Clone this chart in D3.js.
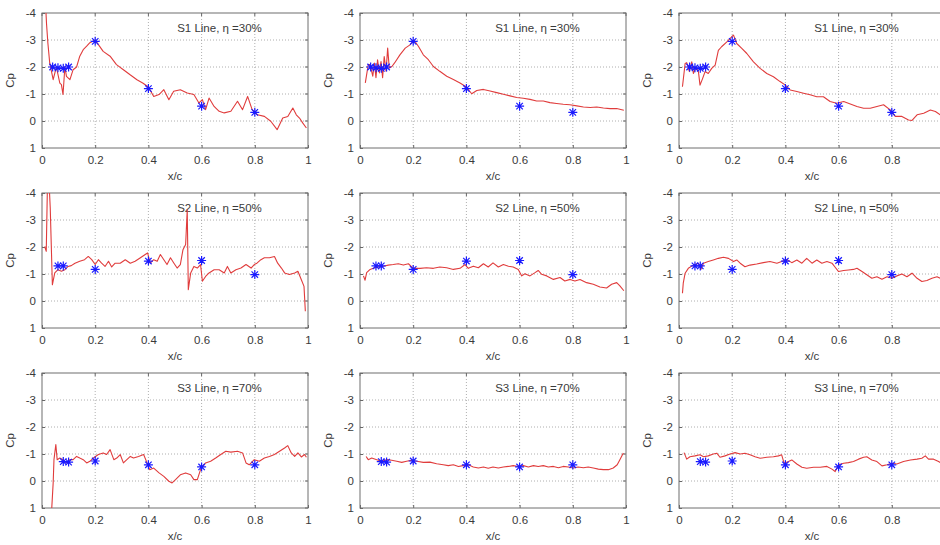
<!DOCTYPE html>
<html>
<head>
<meta charset="utf-8">
<script src="https://cdn.jsdelivr.net/npm/d3@7"></script>
<style>
  html, body { margin: 0; padding: 0; background: #fff; overflow: hidden; }
  svg { display: block; font-family: "Liberation Sans", Arial, sans-serif; }
</style>
</head>
<body>
<div id="chart"></div>
<script>
// ---- data ----
const xTicks = [0, 0.2, 0.4, 0.6, 0.8, 1];
const yTicks = [-4, -3, -2, -1, 0, 1];
const titles = ["S1 Line, η =30%", "S2 Line, η =50%", "S3 Line, η =70%"];

// experimental taps (stars), same per row
const s1Taps = [[0.04, -2.0], [0.06, -1.97], [0.08, -1.95], [0.1, -2.0], [0.2, -2.95], [0.4, -1.2], [0.6, -0.55], [0.8, -0.32]];
const s2Taps = [[0.06, -1.3], [0.08, -1.3], [0.2, -1.17], [0.4, -1.48], [0.6, -1.5], [0.8, -0.98]];
const s3Taps = [[0.08, -0.72], [0.1, -0.7], [0.2, -0.74], [0.4, -0.6], [0.6, -0.52], [0.8, -0.6]];

// computed Cp curves, one per panel
const s1Left = [[0.012,-4.6],[0.017,-3.6],[0.022,-2.9],[0.029,-2.15],[0.042,-1.53],[0.054,-2.0],[0.067,-1.4],[0.073,-1.35],[0.079,-0.98],[0.086,-2.0],[0.092,-1.65],[0.105,-1.53],[0.117,-1.9],[0.13,-2.0],[0.142,-2.4],[0.155,-2.64],[0.168,-2.77],[0.18,-2.9],[0.2,-3.0],[0.212,-2.83],[0.23,-2.58],[0.256,-2.4],[0.28,-2.09],[0.306,-1.9],[0.33,-1.72],[0.357,-1.53],[0.38,-1.4],[0.4,-1.26],[0.42,-0.91],[0.44,-0.98],[0.458,-1.16],[0.477,-0.79],[0.495,-1.1],[0.52,-1.16],[0.546,-1.04],[0.571,-0.98],[0.59,-0.67],[0.603,-0.79],[0.615,-0.42],[0.628,-0.85],[0.647,-0.54],[0.666,-0.36],[0.685,-0.3],[0.71,-0.36],[0.735,-0.73],[0.754,-0.42],[0.773,-0.91],[0.79,-0.42],[0.81,-0.23],[0.836,-0.17],[0.86,0.01],[0.884,0.32],[0.905,-0.11],[0.924,-0.17],[0.943,-0.48],[0.956,-0.23],[0.968,-0.11],[0.98,0.07],[0.994,0.26]];
const s1Mid = [[0.02,-1.41],[0.031,-2.09],[0.038,-2.09],[0.048,-1.66],[0.054,-2.15],[0.06,-1.6],[0.066,-2.27],[0.073,-1.78],[0.079,-2.2],[0.085,-1.6],[0.091,-2.39],[0.098,-1.84],[0.104,-2.7],[0.11,-1.96],[0.12,-2.02],[0.13,-2.15],[0.15,-2.45],[0.17,-2.7],[0.188,-2.82],[0.203,-3.0],[0.22,-2.76],[0.238,-2.45],[0.257,-2.27],[0.276,-2.02],[0.3,-1.84],[0.326,-1.66],[0.351,-1.54],[0.376,-1.41],[0.4,-1.26],[0.42,-1.01],[0.439,-1.13],[0.464,-1.17],[0.489,-1.11],[0.514,-1.05],[0.539,-0.99],[0.564,-0.93],[0.589,-0.87],[0.614,-0.84],[0.639,-0.8],[0.664,-0.74],[0.689,-0.74],[0.714,-0.68],[0.739,-0.65],[0.764,-0.62],[0.789,-0.6],[0.815,-0.56],[0.84,-0.52],[0.865,-0.5],[0.89,-0.52],[0.915,-0.48],[0.94,-0.46],[0.965,-0.46],[0.992,-0.4]];
const s1Right = [[0.013,-1.27],[0.023,-2.13],[0.029,-2.16],[0.039,-1.83],[0.048,-2.19],[0.054,-1.76],[0.064,-2.0],[0.073,-1.83],[0.079,-1.33],[0.089,-1.58],[0.098,-1.83],[0.11,-1.76],[0.123,-1.95],[0.136,-2.07],[0.148,-2.62],[0.16,-2.75],[0.18,-2.93],[0.198,-3.12],[0.205,-3.18],[0.217,-2.87],[0.236,-2.69],[0.255,-2.5],[0.28,-2.19],[0.305,-1.95],[0.33,-1.76],[0.355,-1.64],[0.38,-1.46],[0.4,-1.33],[0.418,-1.15],[0.443,-1.09],[0.468,-1.03],[0.493,-0.97],[0.518,-0.9],[0.543,-0.9],[0.568,-0.72],[0.593,-0.66],[0.619,-0.72],[0.644,-0.63],[0.669,-0.54],[0.694,-0.47],[0.719,-0.47],[0.744,-0.54],[0.769,-0.6],[0.794,-0.41],[0.813,-0.17],[0.838,-0.17],[0.863,-0.04],[0.876,-0.02],[0.895,-0.23],[0.92,-0.29],[0.945,-0.41],[0.964,-0.35],[0.982,-0.23],[1.0,-0.2]];

const s2Left = [[0.01,-2.02],[0.016,-1.84],[0.021,-4.6],[0.026,-4.5],[0.031,-3.44],[0.039,-0.6],[0.048,-1.04],[0.06,-1.16],[0.073,-1.1],[0.086,-1.16],[0.098,-1.28],[0.11,-1.31],[0.124,-1.4],[0.142,-1.47],[0.16,-1.53],[0.174,-1.65],[0.187,-1.53],[0.2,-1.35],[0.212,-1.53],[0.224,-1.4],[0.237,-1.28],[0.25,-1.47],[0.262,-1.26],[0.275,-1.4],[0.294,-1.4],[0.313,-1.53],[0.332,-1.4],[0.35,-1.47],[0.37,-1.6],[0.388,-1.72],[0.397,-1.78],[0.407,-1.4],[0.42,-1.53],[0.433,-1.47],[0.445,-1.72],[0.458,-1.53],[0.47,-1.35],[0.483,-1.6],[0.496,-1.4],[0.508,-1.22],[0.52,-1.35],[0.53,-1.9],[0.54,-2.09],[0.546,-3.38],[0.55,-0.42],[0.559,-1.04],[0.571,-1.28],[0.584,-1.22],[0.596,-1.35],[0.603,-0.73],[0.615,-0.91],[0.628,-1.04],[0.647,-1.16],[0.666,-1.16],[0.685,-1.04],[0.697,-1.28],[0.71,-1.04],[0.729,-1.16],[0.748,-1.22],[0.767,-1.35],[0.786,-1.22],[0.798,-1.35],[0.808,-1.4],[0.823,-1.53],[0.836,-1.6],[0.855,-1.6],[0.874,-1.65],[0.886,-1.4],[0.9,-1.22],[0.912,-1.04],[0.93,-0.98],[0.95,-1.04],[0.962,-1.1],[0.975,-0.79],[0.985,-0.54],[0.99,0.38]];
const s2Mid = [[0.013,-0.93],[0.019,-0.77],[0.025,-1.05],[0.038,-1.17],[0.05,-1.21],[0.069,-1.26],[0.088,-1.29],[0.106,-1.33],[0.125,-1.35],[0.144,-1.38],[0.163,-1.33],[0.182,-1.38],[0.2,-1.21],[0.226,-1.21],[0.25,-1.23],[0.276,-1.21],[0.3,-1.26],[0.326,-1.23],[0.351,-1.17],[0.376,-1.21],[0.395,-1.35],[0.407,-1.21],[0.426,-1.29],[0.445,-1.23],[0.464,-1.38],[0.482,-1.26],[0.5,-1.41],[0.52,-1.26],[0.539,-1.35],[0.558,-1.29],[0.576,-1.26],[0.595,-1.17],[0.608,-0.93],[0.62,-1.01],[0.639,-0.93],[0.658,-1.05],[0.67,-1.13],[0.683,-0.99],[0.702,-0.93],[0.727,-0.8],[0.752,-0.87],[0.77,-0.74],[0.79,-0.8],[0.808,-0.74],[0.827,-0.8],[0.852,-0.68],[0.877,-0.62],[0.902,-0.52],[0.927,-0.48],[0.946,-0.62],[0.965,-0.68],[0.977,-0.56],[0.992,-0.38]];
const s2Right = [[0.013,-0.29],[0.016,-0.66],[0.023,-1.03],[0.035,-1.21],[0.054,-1.33],[0.073,-1.4],[0.082,-1.17],[0.092,-1.4],[0.11,-1.46],[0.129,-1.52],[0.148,-1.58],[0.167,-1.62],[0.186,-1.58],[0.205,-1.46],[0.217,-1.52],[0.23,-1.4],[0.248,-1.27],[0.267,-1.33],[0.292,-1.37],[0.317,-1.42],[0.342,-1.46],[0.368,-1.4],[0.386,-1.46],[0.405,-1.54],[0.424,-1.42],[0.443,-1.52],[0.462,-1.4],[0.48,-1.58],[0.5,-1.4],[0.518,-1.52],[0.537,-1.4],[0.556,-1.46],[0.575,-1.4],[0.587,-1.25],[0.6,-1.09],[0.619,-1.13],[0.637,-1.15],[0.656,-1.17],[0.669,-1.21],[0.688,-1.09],[0.706,-0.97],[0.725,-0.84],[0.744,-0.9],[0.763,-0.81],[0.782,-0.9],[0.8,-0.84],[0.819,-0.93],[0.838,-1.0],[0.857,-0.9],[0.876,-1.03],[0.895,-0.84],[0.913,-0.72],[0.932,-0.76],[0.951,-0.84],[0.97,-0.9],[0.982,-0.84],[1.0,-0.86]];

const s3Left = [[0.035,1.3],[0.042,0.07],[0.045,-0.79],[0.052,-1.35],[0.057,-0.79],[0.067,-0.85],[0.079,-0.79],[0.092,-0.67],[0.105,-0.79],[0.117,-0.79],[0.13,-0.91],[0.142,-0.85],[0.155,-0.79],[0.168,-0.67],[0.18,-0.73],[0.193,-0.85],[0.212,-0.98],[0.23,-1.04],[0.243,-0.98],[0.256,-1.16],[0.27,-0.79],[0.281,-0.85],[0.294,-0.98],[0.306,-0.67],[0.319,-0.79],[0.332,-0.91],[0.344,-0.85],[0.363,-0.91],[0.382,-0.98],[0.395,-0.67],[0.405,-0.42],[0.42,-0.48],[0.44,-0.3],[0.458,-0.17],[0.477,0.01],[0.489,0.07],[0.502,-0.05],[0.52,-0.23],[0.54,-0.3],[0.559,-0.23],[0.571,-0.05],[0.584,-0.05],[0.596,-0.42],[0.615,-0.67],[0.634,-0.73],[0.653,-0.85],[0.672,-0.98],[0.691,-1.1],[0.71,-1.07],[0.735,-1.1],[0.754,-1.04],[0.767,-0.67],[0.779,-0.6],[0.798,-0.79],[0.817,-0.73],[0.836,-0.85],[0.855,-0.91],[0.874,-0.98],[0.893,-1.1],[0.912,-1.22],[0.924,-1.31],[0.937,-1.04],[0.95,-0.91],[0.962,-1.04],[0.975,-0.89],[0.987,-0.98],[0.994,-0.88]];
const s3Mid = [[0.023,-0.91],[0.031,-0.79],[0.044,-0.85],[0.063,-0.79],[0.081,-0.73],[0.1,-0.79],[0.119,-0.77],[0.138,-0.73],[0.157,-0.69],[0.175,-0.73],[0.194,-0.77],[0.213,-0.73],[0.238,-0.69],[0.263,-0.7],[0.288,-0.64],[0.313,-0.6],[0.332,-0.57],[0.351,-0.6],[0.37,-0.54],[0.388,-0.57],[0.407,-0.6],[0.426,-0.52],[0.445,-0.48],[0.464,-0.52],[0.482,-0.47],[0.5,-0.52],[0.52,-0.48],[0.539,-0.52],[0.558,-0.54],[0.576,-0.57],[0.595,-0.54],[0.614,-0.57],[0.633,-0.52],[0.652,-0.57],[0.67,-0.54],[0.689,-0.57],[0.708,-0.52],[0.727,-0.54],[0.746,-0.49],[0.764,-0.54],[0.783,-0.52],[0.802,-0.48],[0.82,-0.52],[0.84,-0.49],[0.858,-0.52],[0.877,-0.48],[0.896,-0.44],[0.915,-0.42],[0.934,-0.42],[0.952,-0.48],[0.967,-0.6],[0.977,-0.79],[0.99,-1.04]];
const s3Right = [[0.019,-1.05],[0.029,-0.81],[0.041,-0.9],[0.06,-0.93],[0.079,-0.97],[0.092,-0.9],[0.11,-0.93],[0.129,-1.0],[0.142,-1.03],[0.154,-0.88],[0.173,-0.93],[0.192,-1.0],[0.211,-1.05],[0.23,-1.0],[0.248,-1.03],[0.267,-0.97],[0.286,-0.9],[0.305,-0.84],[0.33,-0.88],[0.355,-0.9],[0.374,-0.93],[0.386,-0.97],[0.395,-0.66],[0.412,-0.72],[0.424,-0.78],[0.443,-0.63],[0.462,-0.51],[0.48,-0.47],[0.506,-0.51],[0.531,-0.51],[0.556,-0.54],[0.575,-0.44],[0.587,-0.35],[0.6,-0.6],[0.619,-0.66],[0.637,-0.68],[0.656,-0.72],[0.675,-0.81],[0.694,-0.88],[0.706,-0.9],[0.725,-0.78],[0.744,-0.72],[0.763,-0.56],[0.782,-0.6],[0.8,-0.66],[0.819,-0.63],[0.844,-0.72],[0.87,-0.78],[0.895,-0.81],[0.913,-0.84],[0.926,-0.93],[0.938,-0.81],[0.957,-0.81],[0.976,-0.72],[0.982,-0.68],[1.0,-0.66]];

const curves = [[s1Left, s1Mid, s1Right], [s2Left, s2Mid, s2Right], [s3Left, s3Mid, s3Right]];
const taps = [s1Taps, s2Taps, s3Taps];

// ---- layout ----
const W = 940, H = 545;
const colLeft = [42, 360, 679];
const rowTop = [13, 193, 373];
const pw = 266, ph = 135;

const svg = d3.select("#chart").append("svg")
  .attr("width", W).attr("height", H)
  .attr("viewBox", `0 0 ${W} ${H}`);

const x = d3.scaleLinear().domain([0, 1]).range([0, pw]);
const y = d3.scaleLinear().domain([-4, 1]).range([0, ph]);

// MATLAB-like '*' marker: plus + cross
const star = (r) => {
  const d = r * 0.72;
  return `M${-r},0L${r},0M0,${-r}L0,${r}M${-d},${-d}L${d},${d}M${-d},${d}L${d},${-d}`;
};

const line = d3.line().x(d => x(d[0])).y(d => y(d[1]));

rowTop.forEach((top, r) => {
  colLeft.forEach((left, c) => {
    const g = svg.append("g").attr("transform", `translate(${left},${top})`);
    const id = `clip${r}${c}`;
    g.append("clipPath").attr("id", id)
      .append("rect").attr("width", pw).attr("height", ph);

    // grid
    g.append("g").selectAll("line").data(xTicks.slice(1, -1)).join("line")
      .attr("x1", d => x(d)).attr("x2", d => x(d))
      .attr("y1", 0).attr("y2", ph)
      .attr("stroke", "#9a9a9a").attr("stroke-width", 0.8).attr("stroke-dasharray", "1,2");
    g.append("g").selectAll("line").data(yTicks.slice(1, -1)).join("line")
      .attr("y1", d => y(d)).attr("y2", d => y(d))
      .attr("x1", 0).attr("x2", pw)
      .attr("stroke", "#9a9a9a").attr("stroke-width", 0.8).attr("stroke-dasharray", "1,2");

    // axes (ticks pointing inward); last column is cut by the page edge, like the source
    const xVals = c === 2 ? xTicks.slice(0, -1) : xTicks;
    const xa = g.append("g").attr("transform", `translate(0,${ph})`)
      .call(d3.axisBottom(x).tickValues(xVals).tickSizeInner(-3).tickSizeOuter(0).tickPadding(8)
        .tickFormat(d => d === 0 || d === 1 ? String(d) : d3.format(".1f")(d)));
    const ya = g.append("g")
      .call(d3.axisLeft(y).tickValues(yTicks).tickSizeInner(-3).tickSizeOuter(0).tickPadding(6)
        .tickFormat(d => d < 0 ? "-" + Math.abs(d) : String(d)));
    [xa, ya].forEach(a => {
      a.select(".domain").remove();
      a.selectAll(".tick line").attr("stroke", "#666");
      a.selectAll(".tick text").attr("fill", "#3a3a3a").style("font-size", "11.5px");
    });
    // right / top ticks
    g.append("g").selectAll("line").data(yTicks).join("line")
      .attr("x1", pw).attr("x2", pw - 3).attr("y1", d => y(d)).attr("y2", d => y(d)).attr("stroke", "#666");
    g.append("g").selectAll("line").data(xTicks).join("line")
      .attr("y1", 0).attr("y2", 3).attr("x1", d => x(d)).attr("x2", d => x(d)).attr("stroke", "#666");

    // frame
    g.append("rect").attr("width", pw).attr("height", ph)
      .attr("fill", "none").attr("stroke", "#6e6e6e").attr("stroke-width", 1);

    // labels
    g.append("text").attr("x", pw / 2).attr("y", ph + 32)
      .attr("text-anchor", "middle").attr("fill", "#3a3a3a").style("font-size", "11.5px").text("x/c");
    g.append("text").attr("transform", `translate(-28,${ph / 2}) rotate(-90)`)
      .attr("text-anchor", "middle").attr("fill", "#3a3a3a").style("font-size", "11.5px").text("Cp");
    g.append("text").attr("x", x(0.508)).attr("y", 19)
      .attr("fill", "#3a3a3a").style("font-size", "11.5px").text(titles[r]);

    // curve
    const plot = g.append("g").attr("clip-path", `url(#${id})`);
    plot.append("path").datum(curves[r][c])
      .attr("d", line)
      .attr("fill", "none").attr("stroke", "#e03c3c").attr("stroke-width", 1.1)
      .attr("stroke-linejoin", "round");

    // taps
    plot.append("g").selectAll("path").data(taps[r]).join("path")
      .attr("transform", d => `translate(${x(d[0])},${y(d[1])})`)
      .attr("d", star(4.5))
      .attr("fill", "none").attr("stroke", "#1a1aff").attr("stroke-width", 1.2);
  });
});
</script>
</body>
</html>
